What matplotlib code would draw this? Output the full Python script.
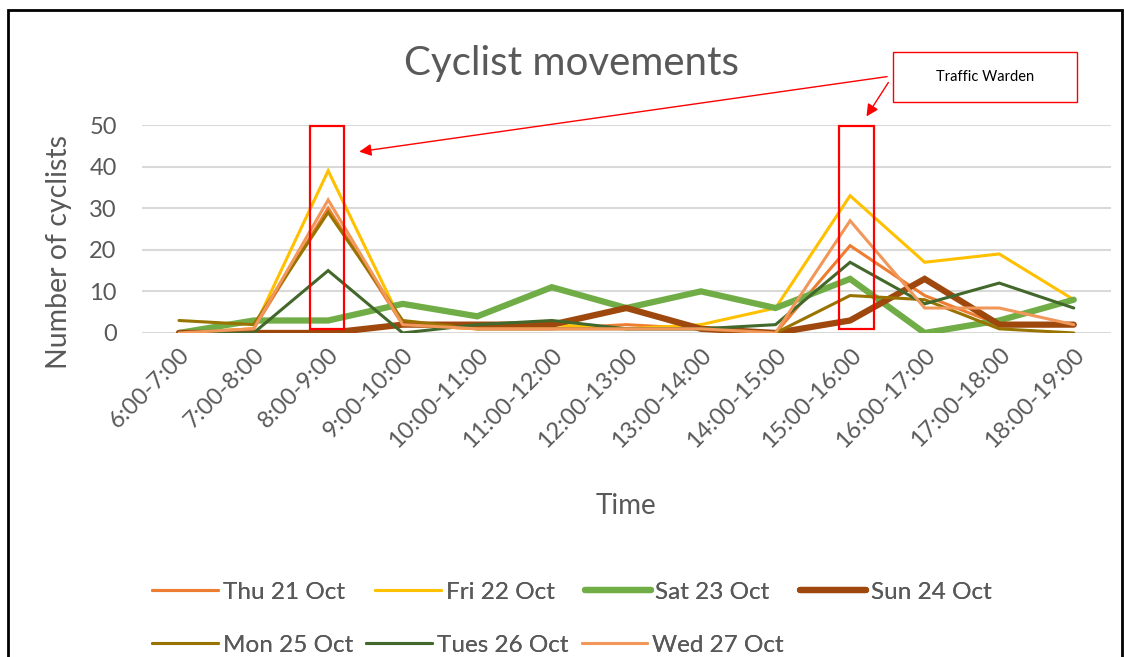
import matplotlib.pyplot as plt
from matplotlib.patches import Rectangle

plt.rcParams["font.family"] = ["Lato", "DejaVu Sans"]

hours = ["6:00-7:00", "7:00-8:00", "8:00-9:00", "9:00-10:00", "10:00-11:00",
         "11:00-12:00", "12:00-13:00", "13:00-14:00", "14:00-15:00",
         "15:00-16:00", "16:00-17:00", "17:00-18:00", "18:00-19:00"]

thu = [0, 1, 30, 2, 1, 1, 2, 1, 0, 21, 9, 2, 2]
fri = [0, 1, 39, 2, 1, 2, 1, 2, 6, 33, 17, 19, 8]
sat = [0, 3, 3, 7, 4, 11, 6, 10, 6, 13, 0, 3, 8]
sun = [0, 0, 0, 2, 2, 2, 6, 1, 0, 3, 13, 2, 2]
mon = [3, 2, 29, 3, 1, 1, 1, 1, 0, 9, 8, 1, 0]
tue = [0, 0, 15, 0, 2, 3, 1, 1, 2, 17, 7, 12, 6]
wed = [0, 1, 32, 2, 1, 1, 1, 1, 0, 27, 6, 6, 2]

series = [
    ("Thu 21 Oct", thu, "#ED7D31", 2.2),
    ("Fri 22 Oct", fri, "#FFC000", 2.2),
    ("Sat 23 Oct", sat, "#70AD47", 4.5),
    ("Sun 24 Oct", sun, "#9E480E", 4.5),
    ("Mon 25 Oct", mon, "#997300", 2.2),
    ("Tues 26 Oct", tue, "#43682B", 2.2),
    ("Wed 27 Oct", wed, "#F1975A", 2.2),
]

grey = "#595959"

fig = plt.figure(figsize=(11.25, 6.57), dpi=100)
ax = fig.add_axes([0.126, 0.4932, 0.8616, 0.3165])

x = list(range(len(hours)))
lines = {}
for label, vals, color, lw in series:
    (ln,) = ax.plot(x, vals, color=color, lw=lw, label=label,
                    solid_joinstyle="miter", solid_capstyle="round")
    lines[label] = ln

ax.set_xlim(-0.5, len(hours) - 0.5)
ax.set_ylim(0, 50)
ax.set_yticks([0, 10, 20, 30, 40, 50])
ax.set_xticks(x)
ax.set_xticklabels(hours, rotation=45, ha="right", rotation_mode="anchor")
ax.tick_params(axis="both", length=0, labelsize=17, labelcolor=grey)
ax.tick_params(axis="y", pad=18)
ax.tick_params(axis="x", pad=8)
ax.grid(axis="y", color="#D9D9D9", lw=1.5)
ax.set_axisbelow(True)
for s in ax.spines.values():
    s.set_visible(False)

ax.set_ylabel("Number of cyclists", fontsize=20.5, color=grey)
ax.yaxis.set_label_coords(-0.072, 0.39)
ax.set_xlabel("Time", fontsize=20, color=grey, labelpad=30)
fig.text(0.508, 0.903, "Cyclist movements", ha="center", va="center",
         fontsize=29, color=grey)

# traffic warden boxes around the two peaks
box_left = [1.76, 8.85]
box_width = [0.45, 0.47]
for bx, bw in zip(box_left, box_width):
    ax.add_patch(Rectangle((bx, 1), bw, 48.8, fill=False,
                           ec="#FF0000", lw=1.6, clip_on=False, zorder=5))

fig.patches.append(Rectangle((0.794, 0.845), 0.163, 0.076, fill=False,
                             ec="#FF0000", lw=1.0, transform=fig.transFigure))
fig.text(0.8755, 0.8835, "Traffic Warden", ha="center", va="center",
         fontsize=10.5, color="black")
arrow = dict(arrowstyle="-|>", color="#FF0000", lw=1.0, mutation_scale=18)
ax.annotate("", xy=(2.38, 43.5), xytext=(0.791, 0.884),
            textcoords="figure fraction", arrowprops=arrow)
ax.annotate("", xy=(9.2, 51.5), xytext=(0.791, 0.878),
            textcoords="figure fraction", arrowprops=arrow,
            annotation_clip=False)

# legend drawn as two rows, like the spreadsheet one
rows = [
    (["Thu 21 Oct", "Fri 22 Oct", "Sat 23 Oct", "Sun 24 Oct"], 0.148, 1.25),
    (["Mon 25 Oct", "Tues 26 Oct", "Wed 27 Oct"], 0.067, 0.55),
]
for names, top, colsp in rows:
    leg = fig.legend([lines[k] for k in names], names, ncol=len(names),
                     loc="upper left", bbox_to_anchor=(0.116, top),
                     frameon=False, fontsize=17.5, handlelength=2.7,
                     handletextpad=0.2, columnspacing=colsp)
    for t in leg.get_texts():
        t.set_color(grey)
    fig.add_artist(leg)

fig.patches.append(Rectangle((0.007, -0.1), 0.99, 1.085, fill=False,
                             ec="black", lw=2.0, transform=fig.transFigure))

fig.savefig("out.png", dpi=100)
